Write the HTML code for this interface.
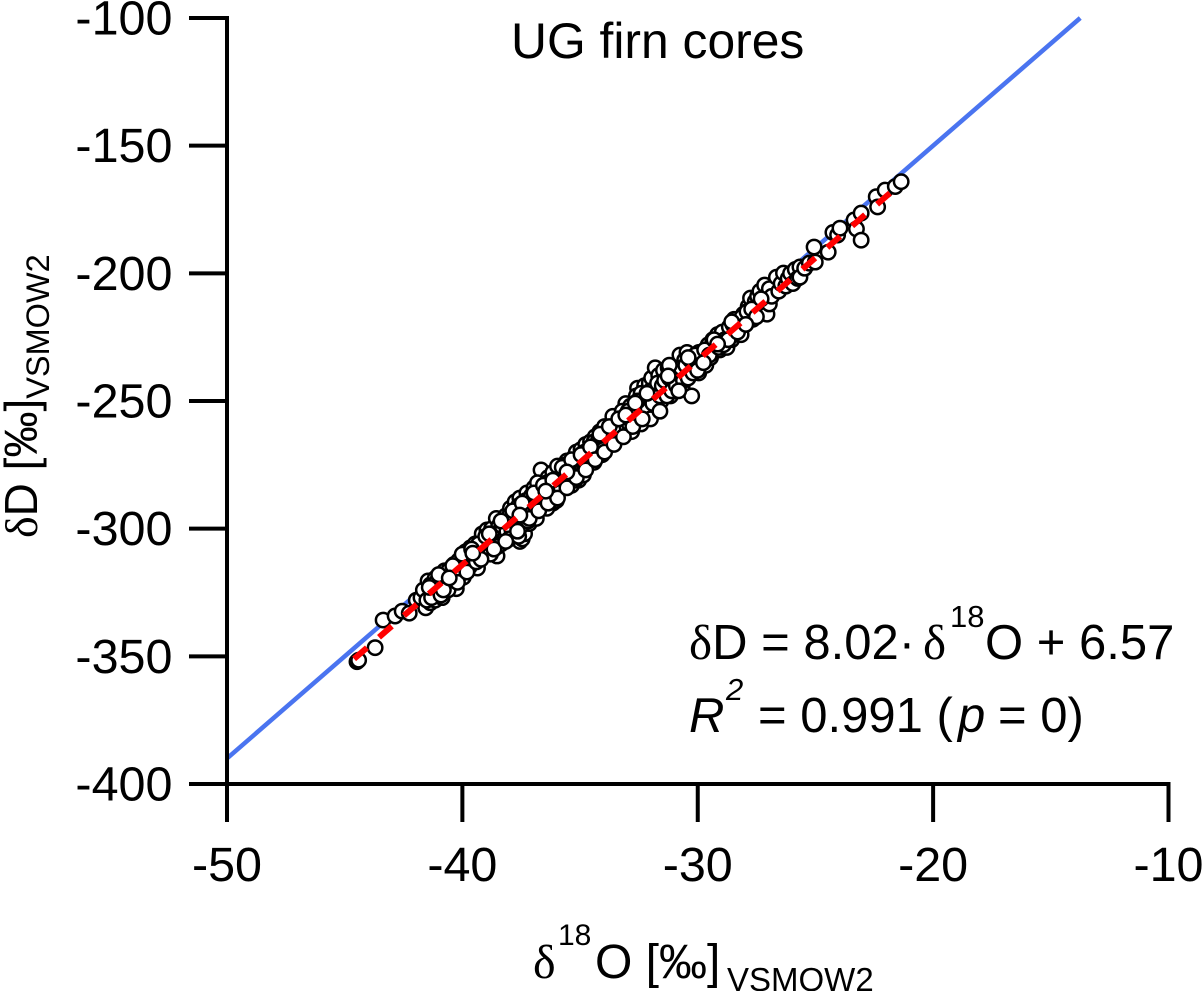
<!DOCTYPE html>
<html lang="en">
<head>
<meta charset="utf-8">
<title>UG firn cores</title>
<style>
html,body{margin:0;padding:0;background:#fff;width:1202px;height:991px;overflow:hidden}
svg{display:block;font-family:"Liberation Sans",sans-serif;fill:#000}
.g{font-family:"Liberation Serif",serif}
</style>
</head>
<body>
<svg id="chart" width="1202" height="991" viewBox="0 0 1202 991" xmlns="http://www.w3.org/2000/svg">
  <g id="lines-back"></g>
  <g id="points"></g>
  <g id="lines-front"></g>
  <g id="axes"></g>

  <text x="511" y="58" font-size="49.8">UG firn cores</text>

  <text y="659" font-size="49"><tspan class="g" x="689">δ</tspan>D = 8.02·<tspan class="g" x="923">δ</tspan><tspan font-size="31" x="950" dy="-32">18</tspan><tspan x="985" dy="32">O + 6.57</tspan></text>
  <text y="732" font-size="49"><tspan font-style="italic" x="689">R</tspan><tspan font-size="31" x="726" dy="-32" font-style="italic">2</tspan><tspan x="758" dy="32">= 0.991 (</tspan><tspan font-style="italic" x="958">p</tspan><tspan x="998">= 0)</tspan></text>

  <text y="978" font-size="48"><tspan class="g" x="533">δ</tspan><tspan font-size="30" x="558" dy="-33">18</tspan><tspan x="595" dy="33">O [‰]</tspan><tspan font-size="33" x="727" dy="13">VSMOW2</tspan></text>
  <text transform="translate(37,538) rotate(-90)" font-size="46"><tspan class="g">δ</tspan>D [‰]<tspan font-size="32.5" dy="12">VSMOW2</tspan></text>
</svg>
<script>
const xTicks = [-50, -40, -30, -20, -10];
const yTicks = [-100, -150, -200, -250, -300, -350, -400];
const xDomain = [-50, -10];
const yDomain = [-400, -100];
const meteoricX = [-50, -13.75];
const meteoricY = [-390, -100];
const fitX = [-44.6, -21.6];
const fitY = [-351, -166.7];
const sampleO18 = [
  -44.52,-44.45,-43.75,-43.41,-42.9,-42.6,-42.3,-42.0,-41.8,-41.7,
  -41.6,-41.5,-41.4,-41.4,-41.3,-41.2,-41.2,-41.1,-41.0,-41.0,-40.9,-40.8,
  -40.8,-40.7,-40.7,-40.6,-40.5,-40.4,-40.4,-40.3,-40.2,-40.2,-40.1,-40.0,-40.0,
  -39.9,-39.8,-39.8,-39.7,-39.6,-39.5,-39.5,-39.4,-39.4,-39.3,-39.2,-39.2,-39.1,-39.0,-39.0,
  -38.9,-38.8,-38.8,-38.7,-38.6,-38.57,-38.5,-38.5,-38.4,-38.3,-38.3,-38.2,-38.1,-38.1,-38.0,-38.0,-37.9,
  -37.8,-37.7,-37.7,-37.6,-37.6,-37.5,-37.5,-37.4,-37.4,-37.3,-37.2,-37.2,-37.1,-37.1,-37.0,-37.0,-36.9,-36.9,
  -36.8,-36.7,-36.7,-36.6,-36.5,-36.5,-36.4,-36.4,-36.3,-36.2,-36.2,-36.1,-36.1,-36.0,-36.0,-35.9,
  -35.8,-35.7,-35.7,-35.6,-35.5,-35.5,-35.4,-35.3,-35.3,-35.2,-35.2,-35.1,-35.0,-35.0,-34.9,-34.9,
  -34.8,-34.7,-34.7,-34.6,-34.6,-34.5,-34.4,-34.4,-34.3,-34.2,-34.2,-34.1,-34.1,-34.0,-34.0,-33.9,
  -33.8,-33.7,-33.7,-33.6,-33.5,-33.5,-33.4,-33.4,-33.3,-33.2,-33.2,-33.1,-33.1,-33.0,-33.0,-32.9,
  -32.8,-32.7,-32.7,-32.6,-32.5,-32.5,-32.4,-32.3,-32.3,-32.2,-32.1,-32.1,-32.0,-32.0,-31.9,-31.85,
  -31.8,-31.7,-31.7,-31.6,-31.5,-31.5,-31.4,-31.3,-31.2,-31.2,-31.1,-31.0,-31.0,-30.9,-30.8,-30.8,
  -30.7,-30.6,-30.5,-30.5,-30.4,-30.3,-30.3,-30.2,-30.1,-30.0,-30.0,-29.9,
  -29.8,-29.7,-29.6,-29.5,-29.4,-29.4,-29.3,-29.2,-29.1,-29.0,-29.0,-28.9,
  -28.8,-28.7,-28.6,-28.5,-28.5,-28.4,-28.3,-28.2,-28.1,-28.0,
  -27.9,-27.8,-27.7,-27.6,-27.5,-27.5,-27.4,-27.3,-27.2,-27.1,-27.0,-27.0,
  -26.9,-26.7,-26.6,-26.5,-26.4,-26.3,-26.2,-26.1,-26.0,-25.9,-25.8,-25.7,-25.7,-25.5,-25.3,-25.1,-25.05,
  -24.5,-24.3,-24.1,-24.0,-23.4,-23.3,-23.1,-23.1,-22.46,-22.4,-22.08,-21.65,-21.4,
  -41.55,-41.35,-41.15,-40.95,-40.75,-40.55,-40.35,-40.15,-39.95,-39.75,-39.55,-39.35,-39.15,-38.95,
  -38.75,-38.65,-38.45,-38.35,-38.25,-38.15,-38.05,-37.95,-37.85,-37.75,-37.65,-37.55,-37.45,-37.35,
  -37.25,-37.15,-37.05,-36.95,-36.85,-36.75,-36.65,-36.55,-36.45,-36.35,-36.25,-36.15,-36.05,-35.95,
  -35.85,-35.75,-35.65,-35.45,-35.35,-35.25,-35.15,-35.05,-34.95,-34.85,-34.75,-34.65,-34.55,-34.45,
  -34.35,-34.25,-34.15,-34.05,-33.95,-33.85,-33.75,-33.65,-33.55,-33.45,-33.35,-33.25,-33.15,-33.05,
  -32.95,-32.85,-32.75,-32.65,-32.55,-32.45,-32.35,-32.25,-32.15,-32.05,-31.95,-31.75,-31.65,-31.55,
  -31.45,-31.35,-31.25,-31.15,-31.05,-30.95,-30.85,-30.75,-30.65,-30.55,-30.45,-30.35,-30.25,-30.15,
  -29.95,-29.75,-29.55,-29.35,-29.15,-28.95,-28.75,-28.55,-28.35,-28.15,-27.95,-27.75,-27.55,-27.35,
  -40.65,-40.25,-39.85,-39.45,-39.05,-38.85,-38.55,-38.05,-37.65,-37.25,-36.85,-36.45,-36.05,-35.65,
  -35.25,-34.85,-34.45,-34.05,-33.65,-33.25,-32.85,-32.45,-32.05,-31.65,-31.25,-30.85,-30.45,-30.05,
  -41.45,-41.05,-40.85,-40.45,-40.05,-39.65,-39.25,-38.9,-38.7,-38.4,-38.2,-37.9,-37.7,-37.5,
  -37.2,-37.0,-36.8,-36.6,-36.4,-36.2,-36.0,-35.8,-35.6,-35.4,-35.2,-35.0,-34.8,-34.6,
  -34.4,-34.2,-34.0,-33.8,-33.6,-33.4,-33.2,-33.0,-32.8,-32.6,-32.4,-32.2,-29.8,-28.6,
  -40.6,-39.6,-37.6,-36.5,-35.6,-33.1,-32.7,-31.3,-29.2,-28.0
];
const sampleD = [
  -352.1,-351.5,-346.6,-335.8,-334.2,-332.3,-333.1,-328,-327,-324,
  -331,-320.5,-329,-322,-325,-319.5,-328,-324,-319,-325,-327,-320,
  -316.5,-323,-318,-316,-322,-314,-321,-323.5,-312.5,-318,-313.5,-311,-319,
  -309,-316,-310,-307.5,-314,-306,-311,-315.4,-309,-305,-302,-311,-304.5,-300.5,-309,
  -307,-300,-308,-304,-296,-310.7,-305,-299,-306,-297,-302,-295,-303,-298,-292,-301,-297,
  -289.5,-300,-294,-288,-305,-304,-296,-291,-302,-286,-298,-290,-287,-295,-284,-293,-289,-296,
  -292,-277,-286,-291,-283,-289,-280,-287,-284,-278,-290,-282,-286,-275.5,-284,-280,
  -283,-276,-281,-273.5,-280,-275,-283,-272,-278,-270,-276,-281,-269,-277,-273,-279,
  -267,-275,-270,-266,-273,-268,-264,-272,-269,-262,-270,-266,-271,-260,-268,-264,
  -261,-259,-267,-257,-263,-258,-264,-255.5,-261,-257,-263,-251,-259,-255,-262,-252,
  -256,-251,-258,-245,-255,-250,-253,-244,-250,-254,-243,-248,-252,-241,-246,-237,
  -249,-240,-245,-250,-238,-244,-247,-237,-243,-248,-239,-240,-246,-236,-232,-241,
  -244,-234,-231,-239,-236,-248,-233,-237,-235,-231,-239,-234,
  -231,-236,-228,-233,-226,-231,-228,-224,-230,-223,-229,-226,
  -229,-221,-226,-218,-224,-221,-219,-224,-216,-220,
  -213,-209.7,-218,-211,-209,-216,-207,-213,-204.6,-216,-206,-212,
  -209,-201.5,-207,-204,-199.9,-205,-202,-200,-204,-198.5,-202,-197.5,-201.5,-198,-196,-189.7,-195.6,
  -191.7,-184,-185,-182.3,-179.1,-182.6,-187,-176.4,-170,-174,-167.4,-166,-164.1,
  -328,-327,-321,-326,-323,-321,-320,-318,-312,-315,-313,-306,-310,-309,
  -302,-306,-303,-299,-304,-301,-295,-300,-293,-298,-291,-299,-296,-289,
  -294,-288,-292,-291,-286,-290,-284,-288,-282,-287,-286,-281,-284,-283,
  -284,-278,-282,-276,-280,-273,-278,-272,-276,-270,-274,-269,-272,-266,
  -272,-265,-269,-264,-268,-262,-266,-260,-264,-260,-258,-262,-256,-260,
  -259,-254,-253,-248,-257,-247,-255,-249,-253,-246,-251,-243,-248,-244,
  -242,-248,-241,-246,-238,-244,-238,-237,-242,-236,-241,-234,-239,-232,
  -236,-230,-232,-226,-229,-228,-226,-220,-223,-217,-215,-214,-217,-210,
  -324,-321,-317,-313,-303,-310,-307,-304,-303,-297,-282,-292,-289,-275,
  -281,-276,-274,-269,-256,-254,-262,-259,-257,-254,-236,-246,-233,-238,
  -323,-318,-324,-314.5,-310,-308,-312,-302,-308,-297,-305,-293,-301,-290,
  -296,-286,-293,-283,-290,-281,-288,-276,-284,-273,-280,-271,-277,-268,
  -273,-263,-270,-260,-267,-257,-264,-254,-260,-250,-257,-247,-235,-219,
  -319.3,-309.6,-294.7,-285.3,-277.8,-255.5,-250.8,-240.2,-227.7,-220
];

const plotLeft = 227, plotRight = 1168.5, plotTop = 18, plotBottom = 784;
function sx(v){ return plotLeft + (v - xDomain[0]) / (xDomain[1] - xDomain[0]) * (plotRight - plotLeft); }
function sy(v){ return plotBottom - (v - yDomain[0]) / (yDomain[1] - yDomain[0]) * (plotBottom - plotTop); }
const NS = 'http://www.w3.org/2000/svg';
function make(parent, tag, attrs, text){
  const el = document.createElementNS(NS, tag);
  for (const k in attrs) el.setAttribute(k, attrs[k]);
  if (text !== undefined) el.textContent = text;
  parent.appendChild(el);
  return el;
}

const back = document.getElementById('lines-back');
const meteoric = make(back, 'line', {x1: sx(meteoricX[0]), y1: sy(meteoricY[0]), x2: sx(meteoricX[1]), y2: sy(meteoricY[1]), stroke: '#4a74f0', 'stroke-width': 4.5});



const pts = document.getElementById('points');
sampleO18.forEach(function(v, i){
  const c = make(pts, 'circle', {cx: sx(v) + 1, cy: sy(sampleD[i]), r: 7.2, fill: '#fff', stroke: '#000', 'stroke-width': 2.5});
  
  
});

const front = document.getElementById('lines-front');
const fit = make(front, 'line', {x1: sx(fitX[0]), y1: sy(fitY[0]), x2: sx(fitX[1]), y2: sy(fitY[1]), stroke: '#ff0000', 'stroke-width': 6, 'stroke-dasharray': '17 16'});



const axes = document.getElementById('axes');
const yAxisLine = make(axes, 'line', {x1: plotLeft, y1: plotTop - 2, x2: plotLeft, y2: plotBottom + 2, stroke: '#000', 'stroke-width': 4});


const xAxisLine = make(axes, 'line', {x1: plotLeft - 2, y1: plotBottom, x2: plotRight + 2, y2: plotBottom, stroke: '#000', 'stroke-width': 4});



yTicks.forEach(function(v){
  const t = make(axes, 'line', {x1: 189, y1: sy(v), x2: plotLeft, y2: sy(v), stroke: '#000', 'stroke-width': 4});
  
  
  const l = make(axes, 'text', {x: 172.5, y: sy(v) + 16.5, 'text-anchor': 'end', 'font-size': 48.5}, String(v));
  
  
});
xTicks.forEach(function(v){
  const t = make(axes, 'line', {x1: sx(v), y1: plotBottom, x2: sx(v), y2: 822, stroke: '#000', 'stroke-width': 4});
  
  
  const l = make(axes, 'text', {x: sx(v), y: 881, 'text-anchor': 'middle', 'font-size': 48.5}, String(v));
  
  
});
</script>
</body>
</html>
